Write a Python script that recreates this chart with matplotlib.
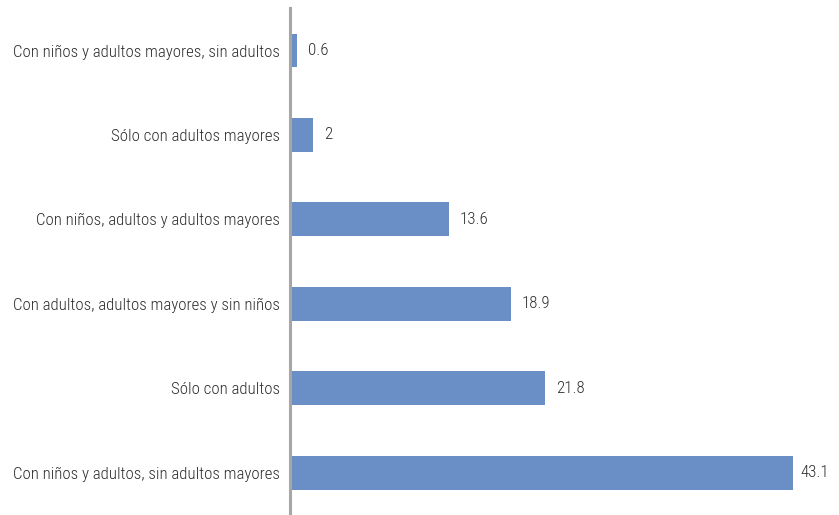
import matplotlib
matplotlib.use("Agg")
import matplotlib.pyplot as plt
from matplotlib import font_manager

categories = [
    "Con niños y adultos, sin adultos mayores",
    "Sólo con adultos",
    "Con adultos, adultos mayores y sin niños",
    "Con niños, adultos y adultos mayores",
    "Sólo con adultos mayores",
    "Con niños y adultos mayores, sin adultos",
]
values = [43.1, 21.8, 18.9, 13.6, 2, 0.6]
value_labels = ["43.1", "21.8", "18.9", "13.6", "2", "0.6"]

# pick a narrow font if one is around
names = {f.name for f in font_manager.fontManager.ttflist}
family = "DejaVu Sans"
for cand in ["Roboto Condensed", "Liberation Sans Narrow", "Arial Narrow"]:
    if cand in names:
        family = cand
        break
plt.rcParams["font.family"] = [family, "DejaVu Sans"]
plt.rcParams["font.weight"] = "light"

text_color = "#2E2E2E"
bar_color = "#6A8EC6"

fig = plt.figure(figsize=(8.39, 5.15), dpi=100)
ax = fig.add_axes([0.3457, 0.0, 0.6543, 0.984])

pos = range(len(categories))
ax.barh(pos, values, height=0.4, color=bar_color)

# value labels sit just right of each bar; the longest one is tucked in closer
for p, v, lab in zip(pos, values, value_labels):
    off = 5 if v == max(values) else 8
    ax.annotate(lab, (v, p), xytext=(off, 0), textcoords="offset points",
                va="center", ha="left", fontsize=12.2, color=text_color)

ax.set_yticks(list(pos))
ax.set_yticklabels(categories, fontsize=12.2, color=text_color)
ax.tick_params(axis="y", length=0, pad=7)
ax.set_xticks([])
ax.set_xlim(0, 47.0)
ax.set_ylim(-0.5, 5.5)

for side in ["top", "right", "bottom"]:
    ax.spines[side].set_visible(False)
ax.spines["left"].set_color("#A6A6A6")
ax.spines["left"].set_linewidth(2.2)

fig.savefig("out.png", dpi=100)
